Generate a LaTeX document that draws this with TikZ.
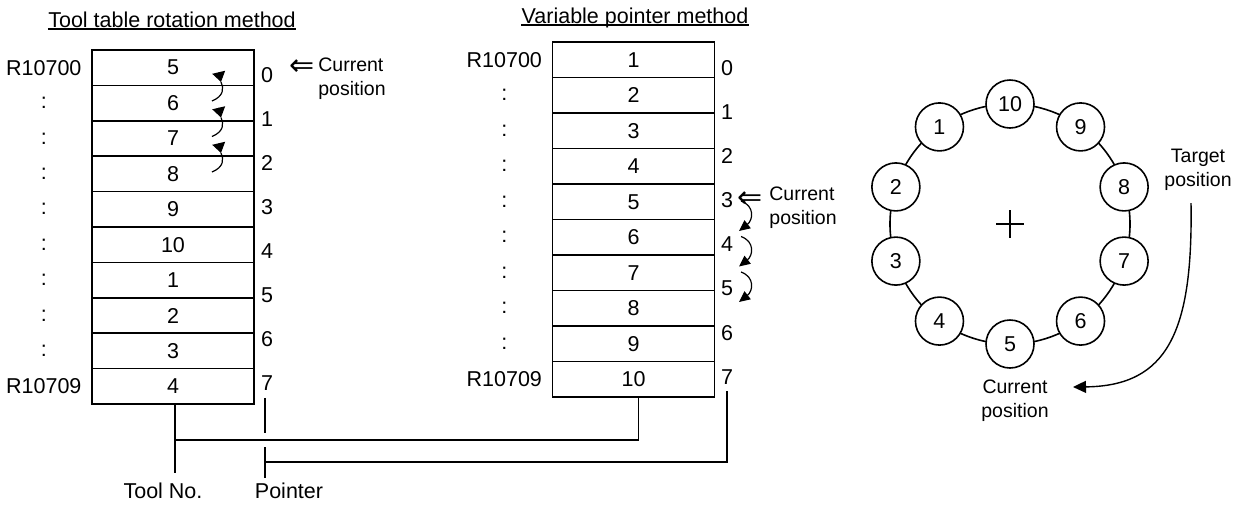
\documentclass[tikz,border=0pt]{standalone}
\usepackage{fontspec}
\setmainfont{Liberation Sans}
\newfontfamily\symbfont{DejaVu Sans}
\usetikzlibrary{arrows.meta,positioning,calc}

\tikzset{
  cell/.style={draw, line width=0.8pt, minimum width=81pt, minimum height=17.7pt, inner sep=0pt},
  regname/.style={minimum width=38pt, inner sep=0pt},
  idx/.style={inner sep=0pt},
  note/.style={font=\fontsize{9.75}{12}\selectfont, inner sep=0pt},
  hollow/.style={font=\symbfont\fontsize{15}{15}\selectfont, inner sep=0pt},
  pocket/.style={circle, draw, fill=white, line width=0.8pt, minimum size=24pt, inner sep=0pt},
  wire/.style={line width=0.7pt},
  hookline/.style={line width=0.6pt},
  uptip/.style={line width=0.6pt, -{Triangle[length=5pt,width=6.5pt]}},
  downarrow/.style={line width=0.6pt, -{Triangle[length=5.5pt,width=5pt]}},
  turnarrow/.style={line width=0.7pt, -{Triangle[length=6.5pt,width=6pt]}},
}

\begin{document}
\begin{tikzpicture}[x=0.5pt, y=-0.5pt, font=\fontsize{10.75}{12}\selectfont]
    \useasboundingbox (0,0) rectangle (1242,505);

    % tool table rotation method
    \node[inner sep=0pt, anchor=base] (titleA) at (172,27) {Tool table rotation method};
    \draw[line width=0.6pt] ([yshift=-1pt]titleA.base west) -- ([yshift=-1pt]titleA.base east);

    \foreach \v [count=\i from 0] in {5,6,7,8,9,10,1,2,3,4}
        \node[cell] (a\i) at (173,{50+35.4*(\i+0.5)}) {\v};
    \node[regname, left=4.5pt of a0] (ra0) {R10700};
    \foreach \i in {1,...,8}
        \node[regname, left=4.5pt of a\i] (ra\i) {:};
    \node[regname, left=4.5pt of a9] (ra9) {R10709};
    \foreach \k in {0,...,7}
        \node[idx] (ia\k) at (267,{75+44*\k}) {\k};

    \node[hollow] (cura) at (302,68) {⇐};
    \node[note, align=left, anchor=west] (curatxt) at (318,79) {Current\\position};

    \foreach \k in {0,1,2} {
        \draw[uptip] (218.7,{72.3+35.5*\k}) -- (221,{82+35.5*\k});
        \draw[hookline] (221,{82+35.5*\k}) .. controls +(3,6) and +(12,-5) .. (212,{101+35.5*\k});
    }

    % variable pointer method
    \node[inner sep=0pt, anchor=base] (titleB) at (635,23) {Variable pointer method};
    \draw[line width=0.6pt] ([yshift=-1pt]titleB.base west) -- ([yshift=-1pt]titleB.base east);

    \foreach \v [count=\i from 0] in {1,...,10}
        \node[cell] (b\i) at (633.5,{42+35.5*(\i+0.5)}) {\v};
    \node[regname, left=4.5pt of b0] (rb0) {R10700};
    \foreach \i in {1,...,8}
        \node[regname, left=4.5pt of b\i] (rb\i) {:};
    \node[regname, left=4.5pt of b9] (rb9) {R10709};
    \foreach \k in {0,...,7}
        \node[idx] (ib\k) at (727,{68+44.1*\k}) {\k};

    \node[hollow] (curb) at (750,200) {⇐};
    \node[note, align=left, anchor=west] (curbtxt) at (769,208) {Current\\position};

    \foreach \k in {0,1,2}
        \draw[downarrow] (741,{201+35.5*\k}) .. controls +(14,5) and +(14,-11) .. (739,{231+35.5*\k});

    % wires to the tables
    \node[inner sep=0pt] (toolno) at (163,491) {Tool No.};
    \node[inner sep=0pt] (pointer) at (289,491) {Pointer};

    \coordinate (ta) at ($(a9.south)+(2,0)$);
    \coordinate (tb) at ($(b9.south)+(5,0)$);
    \coordinate (tj) at (ta |- 0,440);
    \draw[wire] (ta) -- ($(ta |- toolno.north)+(0,-10)$);
    \draw[wire] (tj) -- (tj -| tb) -- (tb);

    \coordinate (pa) at ($(ia7.south)+(-2,7)$);
    \draw[wire] (pa) -- ($(pa |- tj)+(0,-7)$);
    \draw[wire] ($(pa |- tj)+(0,7)$) -- ($(pa |- pointer.north)+(0,-5)$);
    \coordinate (pj) at ($(pa |- tj)+(0,22)$);
    \draw[wire] (pj) -- (pj -| ib7) -- ([yshift=-3pt]ib7.south);

    % magazine
    \coordinate (hub) at (1010,224);
    \draw[line width=0.8pt] (hub) circle (60pt);
    \draw[line width=0.7pt] ($(hub)+(-14,0)$) -- ($(hub)+(14,0)$)
        ($(hub)+(0,-14)$) -- ($(hub)+(0,14)$);
    \foreach \n [count=\i from 0] in {10,9,...,1}
        \node[pocket] (p\n) at ([shift={(hub)}]{90-36*\i}:60pt) {\n};

    \node[note, align=center] (target) at (1198,170) {Target\\position};
    \node[note, align=center] (curc) at (1015,401) {Current\\position};
    \draw[turnarrow] ([xshift=-3.5pt,yshift=-6pt]target.south)
        .. controls +(2,128) and +(95,-1) .. ([xshift=12pt,yshift=7pt]curc.east);
\end{tikzpicture}
\end{document}
